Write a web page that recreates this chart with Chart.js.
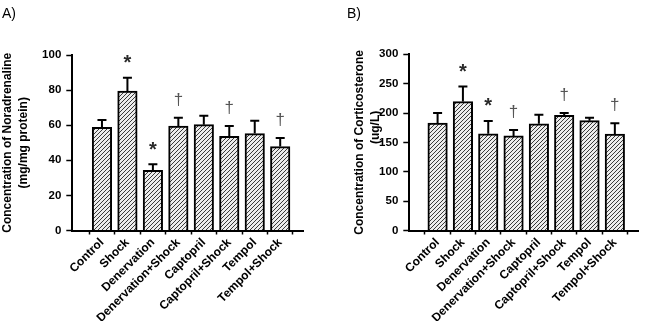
<!DOCTYPE html>
<html>
<head>
<meta charset="utf-8">
<script src="https://cdn.jsdelivr.net/npm/chart.js@4"></script>
<style>
  body { margin: 0; background: #fff; }
  #wrap { position: relative; width: 646px; height: 321px; overflow: hidden; }
  .box { position: absolute; top: 0; width: 323px; height: 321px; }
  .panel { position: absolute; top: 5px; font: 14px "Liberation Sans", Arial, sans-serif; line-height: 16px; color: #000; }
</style>
</head>
<body>
<div id="wrap">
  <div class="box" style="left:0"><canvas id="diagramA"></canvas></div>
  <div class="box" style="left:323px"><canvas id="diagramB"></canvas></div>
  <div class="panel" style="left:2px">A)</div>
  <div class="panel" style="left:347px">B)</div>
</div>
<script>
// grupper
const labels = ["Control", "Shock", "Denervation", "Denervation+Shock", "Captopril", "Captopril+Shock", "Tempol", "Tempol+Shock"];

// A) noradrenalin (medel och fel)
const noradrenaline = [58.8, 79.5, 34.3, 59.5, 60.3, 53.7, 55.2, 47.8];
const noradrenalineErr = [4.2, 7.5, 3.4, 4.8, 5.1, 5.8, 7.4, 4.9];
const noradrenalineSig = ["", "*", "*", "†", "", "†", "", "†"];

// B) kortikosteron
const corticosterone = [183, 219.5, 164.6, 161, 181.6, 196, 187, 164];
const corticosteroneErr = [17, 25.5, 22, 10, 15.5, 4, 5, 18.5];
const corticosteroneSig = ["", "*", "*", "†", "", "†", "", "†"];

const fontName = "'Liberation Sans', Arial, sans-serif";

// randig fyllning
function hatch() {
  const c = document.createElement("canvas");
  c.width = 4;
  c.height = 4;
  const g = c.getContext("2d");
  g.fillStyle = "#ececec";
  g.fillRect(0, 0, 4, 4);
  g.strokeStyle = "#3a3a3a";
  g.lineWidth = 1;
  g.beginPath();
  g.moveTo(0, 4); g.lineTo(4, 0);
  g.moveTo(-1, 1); g.lineTo(1, -1);
  g.moveTo(3, 5); g.lineTo(5, 3);
  g.stroke();
  return g.createPattern(c, "repeat");
}

// felstaplar + stjärnor/kors
const errorBars = {
  id: "errorBars",
  afterDatasetsDraw(chart, args, opts) {
    const ctx = chart.ctx;
    const y = chart.scales.y;
    const meta = chart.getDatasetMeta(0);
    ctx.save();
    meta.data.forEach((bar, i) => {
      const top = y.getPixelForValue(opts.means[i] + opts.errors[i]);
      ctx.strokeStyle = "#000";
      ctx.lineWidth = 2;
      ctx.beginPath();
      ctx.moveTo(bar.x, bar.y);
      ctx.lineTo(bar.x, top);
      ctx.moveTo(bar.x - 4.5, top);
      ctx.lineTo(bar.x + 4.5, top);
      ctx.stroke();

      const s = opts.sig[i];
      if (s === "*") {
        ctx.fillStyle = "#2a2a2a";
        ctx.font = "bold 20px " + fontName;
        ctx.textAlign = "center";
        ctx.textBaseline = "middle";
        ctx.fillText(s, bar.x, top - 14);
      } else if (s === "†") {
        ctx.fillStyle = "#555";
        ctx.font = "17px " + fontName;
        ctx.textAlign = "center";
        ctx.textBaseline = "alphabetic";
        ctx.fillText(s, bar.x, top - 13);
      }
    });
    ctx.restore();
  },
};

function makeConfig(means, errors, sig, yMax, yStep, title, yWidth, titlePad, padTop, padRight, xMin, xMax) {
  return {
    type: "bar",
    data: {
      datasets: [
        {
          data: means.map((v, i) => ({ x: i, y: v })),
          backgroundColor: hatch(),
          borderColor: "#000",
          borderWidth: 2,
          barThickness: 19.5,
        },
      ],
    },
    options: {
      responsive: false,
      animation: false,
      layout: { padding: { top: padTop, right: padRight, left: 0, bottom: 0 } },
      plugins: {
        legend: { display: false },
        tooltip: { enabled: false },
        errorBars: { means: means, errors: errors, sig: sig },
      },
      scales: {
        x: {
          type: "linear",
          min: xMin,
          max: xMax,
          afterBuildTicks: (s) => {
            s.ticks = labels.map((l, i) => ({ value: i }));
          },
          afterFit: (s) => {
            s.height = 90.5;
          },
          ticks: {
            autoSkip: false,
            minRotation: 45,
            maxRotation: 45,
            padding: 1,
            color: "#000",
            font: { family: fontName, size: 12, weight: "bold" },
            callback: (v) => labels[v],
          },
          grid: { drawOnChartArea: false, color: "#000", tickLength: 4, tickWidth: 1.5 },
          border: { color: "#000", width: 2 },
        },
        y: {
          min: 0,
          max: yMax,
          afterFit: (s) => {
            s.width = yWidth;
          },
          ticks: {
            stepSize: yStep,
            padding: 5,
            color: "#000",
            font: { family: fontName, size: 11.5, weight: "bold" },
          },
          title: {
            display: true,
            text: title,
            color: "#000",
            padding: { top: titlePad, bottom: 0 },
            font: { family: fontName, size: 12, weight: "bold", lineHeight: 1.3 },
          },
          grid: { drawOnChartArea: false, color: "#000", tickLength: 6, tickWidth: 1.5 },
          border: { color: "#000", width: 2 },
        },
      },
    },
    plugins: [errorBars],
  };
}

const canvasA = document.getElementById("diagramA");
canvasA.width = 323;
canvasA.height = 321;
const chartA = new Chart(canvasA, makeConfig(
  noradrenaline, noradrenalineErr, noradrenalineSig, 100, 20,
  ["Concentration of Noradrenaline", "(mg/mg protein)"],
  72.3, 0, 55, 19.7, -0.598, 7.34
));

const canvasB = document.getElementById("diagramB");
canvasB.width = 323;
canvasB.height = 321;
const chartB = new Chart(canvasB, makeConfig(
  corticosterone, corticosteroneErr, corticosteroneSig, 300, 50,
  ["Concentration of Corticosterone", "\u00a0".repeat(9) + "(ug/L)"],
  86.3, 29, 54.3, 8, -0.553, 7.35
));
</script>
</body>
</html>
